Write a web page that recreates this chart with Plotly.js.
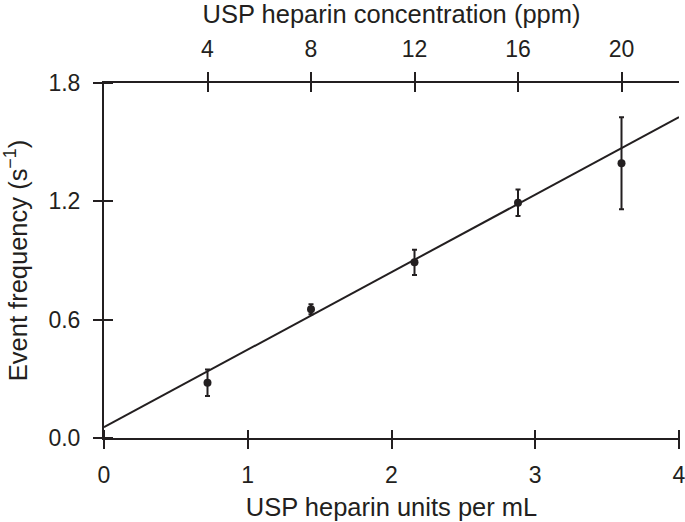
<!DOCTYPE html>
<html>
<head>
<meta charset="utf-8">
<script src="https://cdn.plot.ly/plotly-3.0.1.min.js"></script>
<style>html,body{margin:0;padding:0;background:#fff;}#chart{width:685px;height:522px;}</style>
</head>
<body>
<div id="chart"></div>
<script>
// Data
const unitsPerML = [0.72, 1.44, 2.16, 2.88, 3.6];
const eventFreq = [0.280, 0.653, 0.891, 1.193, 1.393];
const freqErr = [0.067, 0.025, 0.064, 0.067, 0.233];
const fitX = [0, 4];
const fitY = [0.055, 1.627];
const bottomTicks = [0, 1, 2, 3, 4];
const leftTicks = [0.0, 0.6, 1.2, 1.8];
const leftTickText = ['0.0', '0.6', '1.2', '1.8'];
const topTicks = [4, 8, 12, 16, 20];
const unitsPerPpm = 0.18;

const ink = '#231f20';
const family = 'Liberation Sans, Arial, Helvetica, sans-serif';
const tickFont = {family: family, size: 23, color: ink};
const titleFont = {family: family, size: 25.5, color: ink};
const xRange = [0, 4];
const yRange = [0, 1.8];
const ppmRange = [0, 4 / unitsPerPpm];

const W = 685, H = 522, ML = 104, MR = 6, MT = 83, MB = 84;
const plotW = W - ML - MR, plotH = H - MT - MB;
const half = 9; // half tick length (ticks cross the axis line)

const traces = [
  {
    x: fitX, y: fitY, mode: 'lines', type: 'scatter',
    line: {color: ink, width: 2}, hoverinfo: 'skip', showlegend: false
  },
  {
    x: unitsPerML, y: eventFreq, mode: 'markers', type: 'scatter',
    marker: {color: ink, size: 8},
    error_y: {type: 'data', array: freqErr, visible: true, color: ink, thickness: 2, width: 2.5},
    showlegend: false
  },
  // invisible traces to activate helper axes
  {x: [ppmRange[0]], y: [0], xaxis: 'x2', yaxis: 'y', mode: 'markers', marker: {opacity: 0}, showlegend: false, hoverinfo: 'skip'},
  {x: [0], y: [0], xaxis: 'x3', yaxis: 'y3', mode: 'markers', marker: {opacity: 0}, showlegend: false, hoverinfo: 'skip'},
  {x: [ppmRange[0]], y: [0], xaxis: 'x4', yaxis: 'y3', mode: 'markers', marker: {opacity: 0}, showlegend: false, hoverinfo: 'skip'}
];

const common = {tickwidth: 2, tickcolor: ink, showgrid: false, zeroline: false};

const layout = {
  width: W, height: H,
  margin: {l: ML, r: MR, t: MT, b: MB},
  paper_bgcolor: '#fff', plot_bgcolor: 'rgba(0,0,0,0)',
  font: tickFont,
  showlegend: false,
  xaxis: Object.assign({}, common, {
    range: xRange, tickvals: bottomTicks, ticks: 'outside', ticklen: half,
    showline: true, linecolor: ink, linewidth: 2,
    tickfont: tickFont, ticklabelstandoff: 6, ticklabeloverflow: 'allow',
    title: {text: 'USP heparin units per mL', font: titleFont, standoff: 12}
  }),
  yaxis: Object.assign({}, common, {
    range: yRange, tickvals: leftTicks, ticktext: leftTickText, ticks: 'outside', ticklen: half,
    showline: true, linecolor: ink, linewidth: 2,
    tickfont: tickFont, ticklabelstandoff: 8, ticklabeloverflow: 'allow',
    title: {text: 'Event frequency (s<sup>−1</sup>)', font: titleFont, standoff: 14}
  }),
  xaxis2: Object.assign({}, common, {
    overlaying: 'x', side: 'top', range: ppmRange, tickvals: topTicks, ticks: 'outside', ticklen: half,
    showline: true, linecolor: ink, linewidth: 2,
    tickfont: tickFont, ticklabelstandoff: 6, ticklabeloverflow: 'allow',
    title: {text: 'USP heparin concentration (ppm)', font: titleFont, standoff: 10}
  }),
  // helper axes: long outside ticks shifted inward so they cross the axis lines
  xaxis3: Object.assign({}, common, {
    overlaying: 'x', side: 'bottom', range: xRange, tickvals: bottomTicks, ticks: 'outside', ticklen: 2 * half,
    showticklabels: false, showline: false, anchor: 'free', position: half / plotH
  }),
  yaxis3: Object.assign({}, common, {
    overlaying: 'y', side: 'left', range: yRange, tickvals: leftTicks, ticks: 'outside', ticklen: 2 * half,
    showticklabels: false, showline: false, anchor: 'free', position: half / plotW
  }),
  xaxis4: Object.assign({}, common, {
    overlaying: 'x', side: 'top', range: ppmRange, tickvals: topTicks, ticks: 'outside', ticklen: 2 * half,
    showticklabels: false, showline: false, anchor: 'free', position: 1 - half / plotH
  })
};

Plotly.newPlot('chart', traces, layout, {displayModeBar: false, staticPlot: true});
</script>
</body>
</html>
